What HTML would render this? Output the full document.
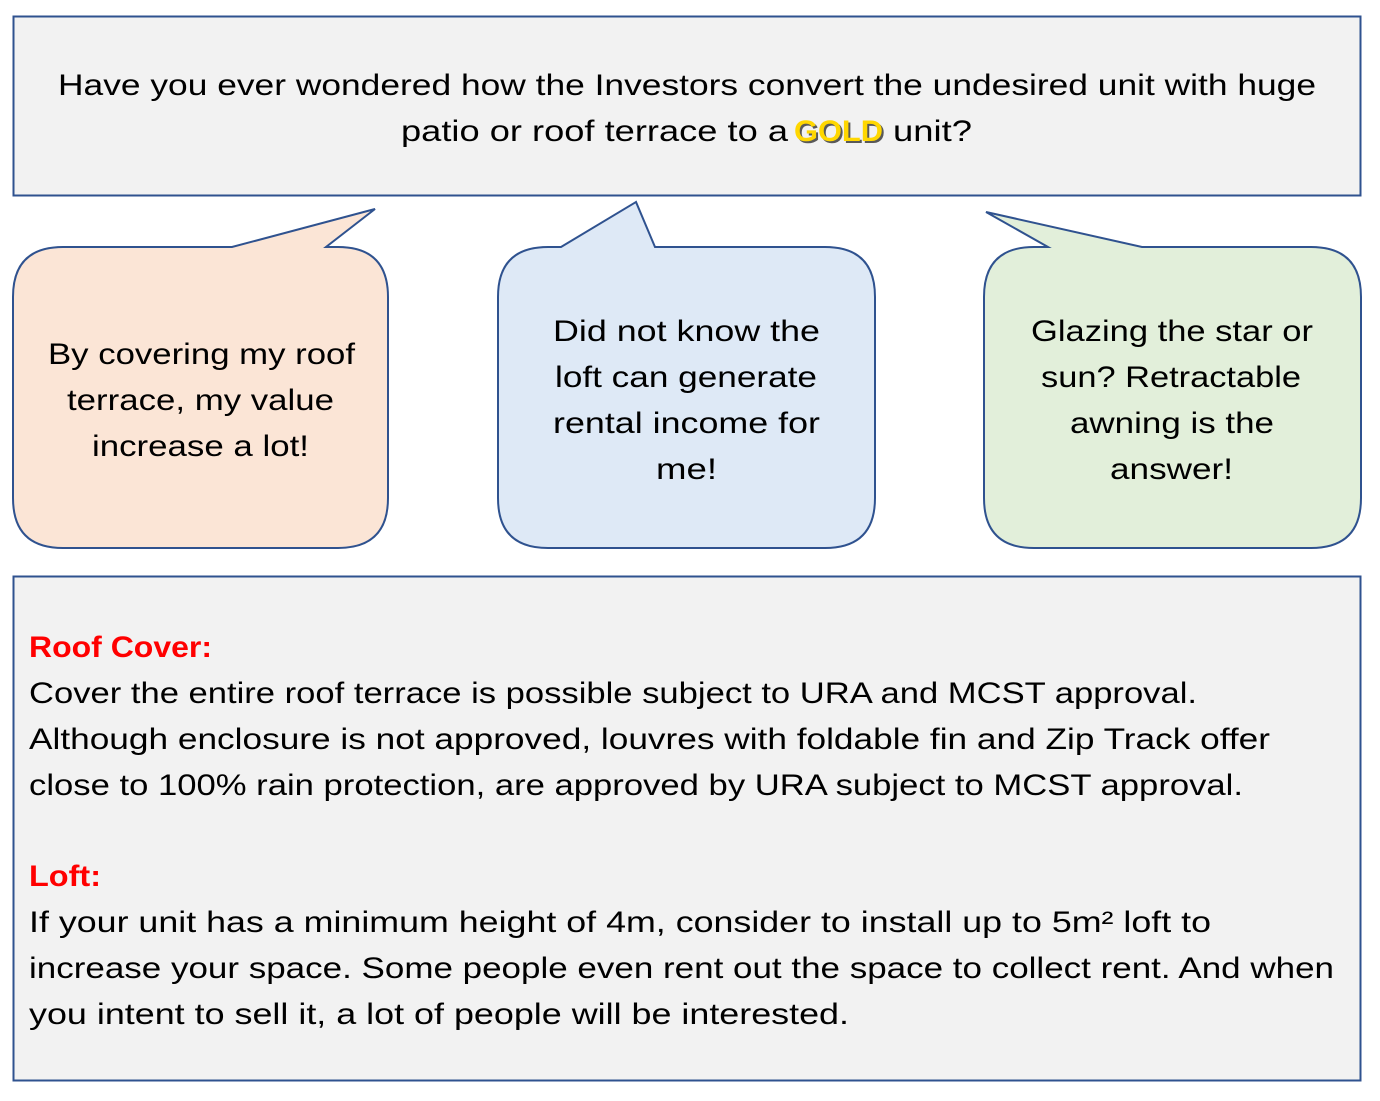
<!DOCTYPE html>
<html><head><meta charset="utf-8"><style>html,body{margin:0;padding:0;background:#fff}svg{display:block}</style></head>
<body>
<svg width="1380" height="1101" viewBox="0 0 1380 1101" xmlns="http://www.w3.org/2000/svg" font-family="'Liberation Sans', sans-serif" font-size="30" fill="#000">
<rect x="13.5" y="16.5" width="1347" height="179" fill="#f2f2f2" stroke="#2f528f" stroke-width="2"/>
<path d="M63,247 L232,247 L375,209 L326,247 L338,247 Q388,247 388,297 L388,498 Q388,548 338,548 L63,548 Q13,548 13,498 L13,297 Q13,247 63,247 Z" fill="#fbe5d6" stroke="#2f528f" stroke-width="2"/>
<path d="M548,247 L561,247 L636,202 L655,247 L825,247 Q875,247 875,297 L875,498 Q875,548 825,548 L548,548 Q498,548 498,498 L498,297 Q498,247 548,247 Z" fill="#dee9f6" stroke="#2f528f" stroke-width="2"/>
<path d="M1034,247 L1048,247 L986,212 L1142,247 L1311,247 Q1361,247 1361,297 L1361,498 Q1361,548 1311,548 L1034,548 Q984,548 984,498 L984,297 Q984,247 1034,247 Z" fill="#e2efda" stroke="#2f528f" stroke-width="2"/>
<rect x="13.5" y="576.5" width="1347" height="504" fill="#f2f2f2" stroke="#2f528f" stroke-width="2"/>

<text x="58" y="95" textLength="1258" lengthAdjust="spacingAndGlyphs">Have you ever wondered how the Investors convert the undesired unit with huge</text>
<text x="401" y="141" textLength="387" lengthAdjust="spacingAndGlyphs">patio or roof terrace to a</text>
<text x="794" y="141" textLength="89" lengthAdjust="spacingAndGlyphs" font-weight="bold" fill="#595959" transform="translate(2,2)">GOLD</text>
<text x="794" y="141" textLength="89" lengthAdjust="spacingAndGlyphs" font-weight="bold" fill="#ffd700">GOLD</text>
<text x="893" y="141" textLength="79" lengthAdjust="spacingAndGlyphs">unit?</text>

<text x="48" y="364" textLength="307" lengthAdjust="spacingAndGlyphs">By covering my roof</text>
<text x="67" y="410" textLength="267" lengthAdjust="spacingAndGlyphs">terrace, my value</text>
<text x="92" y="456" textLength="217" lengthAdjust="spacingAndGlyphs">increase a lot!</text>

<text x="553" y="341" textLength="267" lengthAdjust="spacingAndGlyphs">Did not know the</text>
<text x="555" y="387" textLength="262" lengthAdjust="spacingAndGlyphs">loft can generate</text>
<text x="553" y="433" textLength="267" lengthAdjust="spacingAndGlyphs">rental income for</text>
<text x="656" y="479" textLength="61" lengthAdjust="spacingAndGlyphs">me!</text>

<text x="1031" y="341" textLength="282" lengthAdjust="spacingAndGlyphs">Glazing the star or</text>
<text x="1041" y="387" textLength="260" lengthAdjust="spacingAndGlyphs">sun? Retractable</text>
<text x="1070" y="433" textLength="204" lengthAdjust="spacingAndGlyphs">awning is the</text>
<text x="1110" y="479" textLength="123" lengthAdjust="spacingAndGlyphs">answer!</text>

<text x="29" y="657" textLength="183" lengthAdjust="spacingAndGlyphs" font-weight="bold" fill="#ff0000">Roof Cover:</text>
<text x="29" y="703" textLength="1168" lengthAdjust="spacingAndGlyphs">Cover the entire roof terrace is possible subject to URA and MCST approval.</text>
<text x="29" y="749" textLength="1241" lengthAdjust="spacingAndGlyphs">Although enclosure is not approved, louvres with foldable fin and Zip Track offer</text>
<text x="29" y="795" textLength="1214" lengthAdjust="spacingAndGlyphs">close to 100% rain protection, are approved by URA subject to MCST approval.</text>
<text x="29" y="886" textLength="72" lengthAdjust="spacingAndGlyphs" font-weight="bold" fill="#ff0000">Loft:</text>
<text x="29" y="932" textLength="1182" lengthAdjust="spacingAndGlyphs">If your unit has a minimum height of 4m, consider to install up to 5m² loft to</text>
<text x="29" y="978" textLength="1305" lengthAdjust="spacingAndGlyphs">increase your space. Some people even rent out the space to collect rent. And when</text>
<text x="29" y="1024" textLength="820" lengthAdjust="spacingAndGlyphs">you intent to sell it, a lot of people will be interested.</text>
</svg>
</body></html>
